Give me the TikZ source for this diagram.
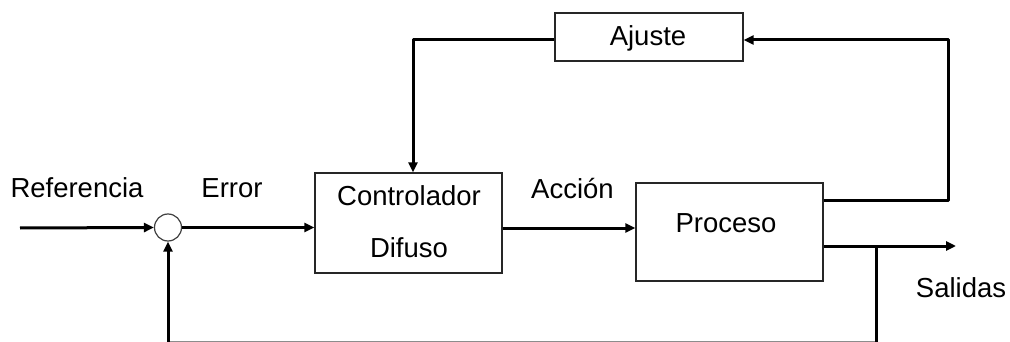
\documentclass[tikz,border=0pt]{standalone}
\usepackage{fontspec}
\setmainfont{Liberation Sans}
\usetikzlibrary{arrows.meta,calc}
\begin{document}
\begin{tikzpicture}[x=1pt,y=-1pt,
  blockbox/.style={draw=black!85,line width=1.3pt,minimum width=#1,inner sep=0pt},
  sig/.style={line width=3pt,line join=round,-{Triangle[length=10pt,width=9pt]}},
  plainsig/.style={line width=3pt,line join=round},
  lbl/.style={font=\fontsize{27.5}{32}\selectfont,inner sep=0pt,anchor=base}]
\useasboundingbox (0,0) rectangle (1010,342);

% blocks
\node[blockbox=187pt,minimum height=100pt] (ctrl) at (408.5,223) {};
\node[blockbox=187pt,minimum height=98pt] (proc) at (729.5,232) {};
\node[blockbox=188pt,minimum height=48pt] (aj) at (649,37) {};
\node[draw=black!75,line width=1.2pt,circle,minimum size=27pt,inner sep=0pt] (sum) at (168,227.5) {};

% labels
\node[lbl] (tref) at (77,197) {Referencia};
\node[lbl] (terr) at (232,197) {Error};
\node[lbl] (tctl) at (409,205) {Controlador};
\node[lbl] (tdif) at (409,257) {Difuso};
\node[lbl] (tacc) at (572.5,199) {Acción};
\node[lbl] (tpro) at (726,233) {Proceso};
\node[lbl] (taj) at (648,46) {Ajuste};
\node[lbl] (tsal) at (961,297) {Salidas};

% connection points
\coordinate (in) at (20,228);
\coordinate (out) at (956,246);
\coordinate (branch) at (876,246);
\coordinate (fbcorner) at (876,342.8);
\coordinate (upcorner) at (948,40);
\coordinate (ajleft) at (413,40);

% forward path
\draw[sig] (in) -- (sum.west);
\draw[sig] (sum.east) -- (sum.east -| ctrl.west);
\draw[sig] (ctrl.east |- 0,228) -- (proc.west |- 0,228);
\draw[sig] (proc.east |- out) -- (out);

% adaptation loop
\draw[sig] (proc.east |- 0,201) -| (upcorner) -- (aj.east |- upcorner);
\draw[sig] (aj.west |- ajleft) -- (ajleft) -- (ajleft |- ctrl.north);

% output feedback
\draw[plainsig,draw=black!45] (fbcorner) -- (sum |- fbcorner);
\draw[plainsig] (branch) -- (fbcorner);
\draw[sig] (sum |- fbcorner) -- (sum.south);
\end{tikzpicture}
\end{document}
